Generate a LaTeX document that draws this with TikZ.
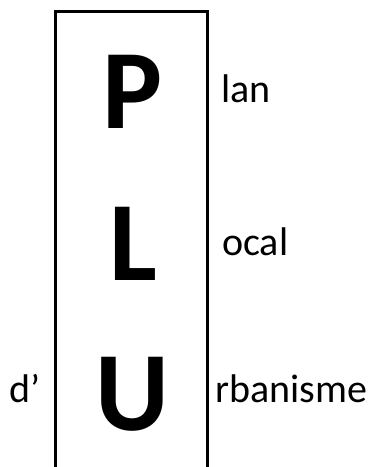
\documentclass[tikz,border=0pt]{standalone}
\usepackage{fontspec}
\setmainfont{Carlito}
\begin{document}
\begin{tikzpicture}[x=1pt,y=-1pt,
  big/.style={font=\fontsize{113}{113}\selectfont\bfseries,inner sep=0pt,anchor=base},
  word/.style={font=\fontsize{40}{40}\selectfont,inner sep=0pt,anchor=base west},
  frame/.style={line width=3pt}]
\useasboundingbox (0,0) rectangle (386,467);
\coordinate (bl) at (55,467);
\coordinate (tl) at (55,11);
\coordinate (tr) at (207,11);
\coordinate (br) at (207,467);
\draw[frame] (bl) -- (tl) -- (tr) -- (br);
\node[big] (P) at (133,128) {P};
\node[big] (L) at (133,280) {L};
\node[big] (U) at (132,430) {U};
\node[word] (lan) at (221,102) {lan};
\node[word] (ocal) at (222,255) {ocal};
\node[word] (rb) at (215,402) {rbanisme};
\node[word] (d) at (9,402) {d’};
\end{tikzpicture}
\end{document}
